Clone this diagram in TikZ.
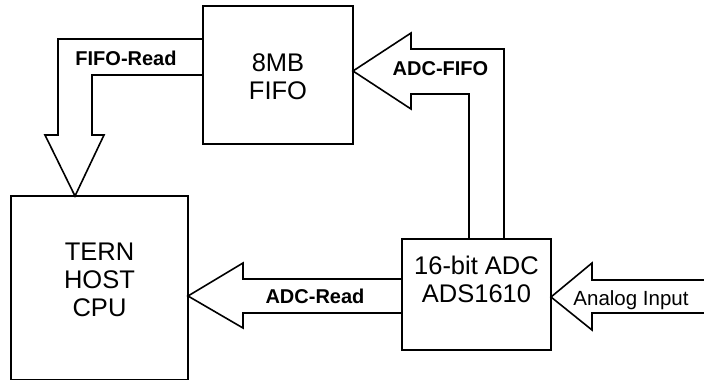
\documentclass[tikz,border=0pt]{standalone}
\usepackage{fontspec}
\setmainfont{Liberation Sans}
\usetikzlibrary{calc}

\begin{document}
\begin{tikzpicture}[x=1pt, y=-1pt, line width=1.6pt,
    block/.style={draw, rectangle, inner sep=0pt, outer sep=0pt},
    bigtxt/.style={align=center, inner sep=0pt, font=\fontsize{25.5}{28}\selectfont},
    flowlbl/.style={inner sep=0pt, anchor=base, font=\fontsize{20}{24}\selectfont\bfseries},
    flow/.style={line join=miter}]
    \useasboundingbox (0,0) rectangle (704,381);

    % blocks
    \node[block, minimum width=177pt, minimum height=183.5pt] (cpu)  at (99.5,287.8) {};
    \node[block, minimum width=150pt, minimum height=138pt]   (fifo) at (278,75) {};
    \node[block, minimum width=149pt, minimum height=111pt]   (adc)  at (476.5,294.5) {};

    \node[bigtxt] (cpu text)  at (99.5,279.5) {TERN\\HOST\\CPU};
    \node[bigtxt] (fifo text) at (278,77)     {8MB\\FIFO};
    \node[bigtxt] (adc text)  at (476.5,279)  {16-bit ADC\\ADS1610};

    % FIFO -> CPU
    \draw[flow] (fifo.west |- 0,39) -- (58,39) -- (58,135) -- (45,135)
        -- (cpu.north -| 75,0) -- (104,135) -- (92,135) -- (92,75)
        -- (fifo.west |- 0,75);
    \node[flowlbl] (fifo read) at (126,65.5) {FIFO-Read};

    % ADC -> FIFO
    \draw[flow] (adc.north -| 504,0) -- (504,49) -- (411,49) -- (411,33)
        -- (fifo.east |- 0,71) -- (411,109) -- (411,94) -- (469,94)
        -- (adc.north -| 469,0);
    \node[flowlbl] (adc fifo) at (440.5,75.7) {ADC-FIFO};

    % ADC -> CPU
    \draw[flow] (adc.west |- 0,279) -- (243,279) -- (243,263)
        -- (cpu.east |- 0,296) -- (243,328) -- (243,313)
        -- (adc.west |- 0,313);
    \node[flowlbl] (adc read) at (315,303) {ADC-Read};

    % analog input
    \draw[flow] (704,280) -- (592,280) -- (592,263)
        -- (adc.east |- 0,297) -- (592,330) -- (592,313) -- (704,313);
    \node[inner sep=0pt, anchor=base, font=\fontsize{20.5}{24}\selectfont]
        (analog in) at (631,305) {Analog Input};
\end{tikzpicture}
\end{document}
